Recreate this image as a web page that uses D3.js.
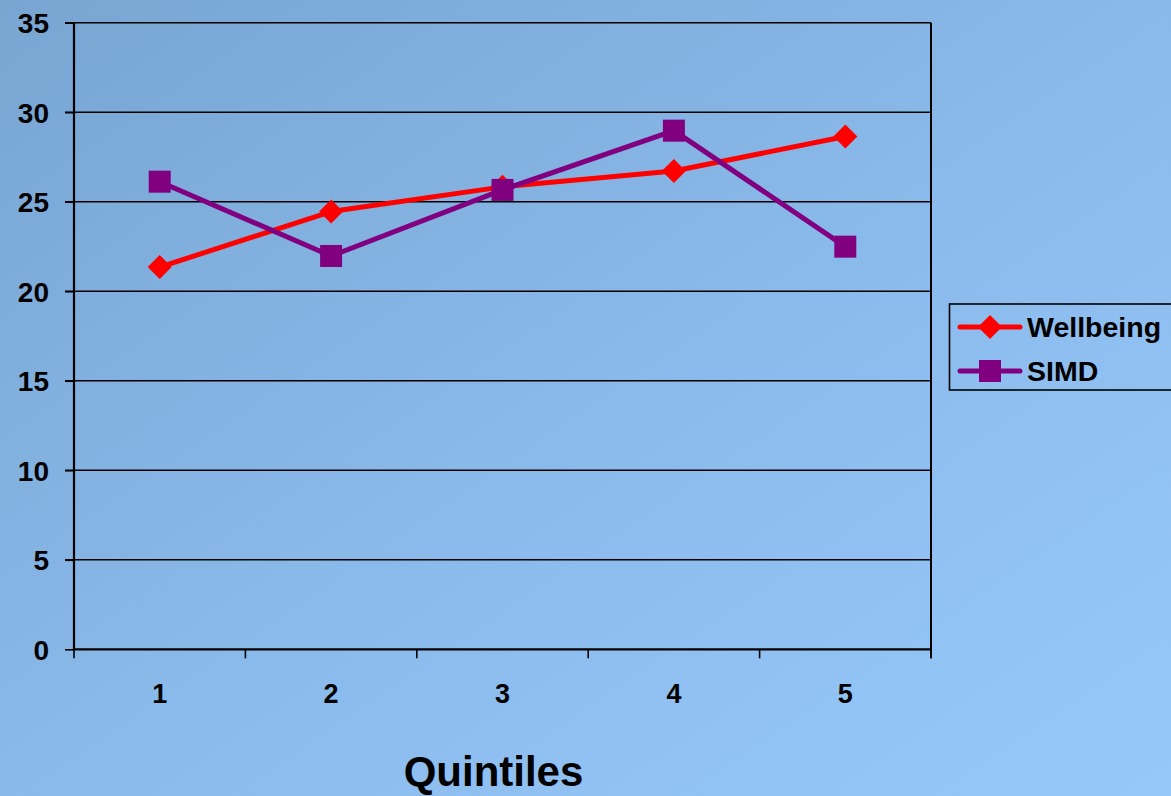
<!DOCTYPE html>
<html><head><meta charset="utf-8">
<script src="https://cdn.jsdelivr.net/npm/d3@7"></script>
<style>html,body{margin:0;padding:0;overflow:hidden;}svg{display:block;}</style>
</head><body>
<script>
const categories = ["1","2","3","4","5"];
const wellbeing = [21.35, 24.45, 25.83, 26.72, 28.64];
const simd = [26.12, 21.97, 25.66, 28.97, 22.49];
const yTicks = [0,5,10,15,20,25,30,35];
const seriesNames = ["Wellbeing","SIMD"];
const xTitle = "Quintiles";

const W = 1171, H = 796;
const m = {left:74, right:240, top:22.7, bottom:146.7};
const svg = d3.select("body").append("svg").attr("width",W).attr("height",H);
const defs = svg.append("defs");
const g1 = defs.append("linearGradient").attr("id","bg").attr("x1","0").attr("y1","0").attr("x2","1").attr("y2","1");
g1.append("stop").attr("offset","0%").attr("stop-color","#78a5d2");
g1.append("stop").attr("offset","55%").attr("stop-color","#8bbbec");
g1.append("stop").attr("offset","100%").attr("stop-color","#96c9fa");
svg.append("rect").attr("width",W).attr("height",H).attr("fill","url(#bg)");

const x = d3.scaleBand().domain(categories).range([m.left, W-m.right]);
const y = d3.scaleLinear().domain([0,35]).range([H-m.bottom, m.top]);
const x0 = m.left, x1 = W-m.right;
const FONT = "Liberation Sans, Arial, sans-serif";

// gridlines
svg.append("g").selectAll("line").data(yTicks.filter(d=>d>0)).join("line")
  .attr("x1",x0-9).attr("x2",x1).attr("y1",d=>y(d)).attr("y2",d=>y(d))
  .attr("stroke","#000").attr("stroke-width",1.6);
// right border
svg.append("line").attr("x1",x1).attr("x2",x1).attr("y1",y(35)).attr("y2",y(0)+9).attr("stroke","#000").attr("stroke-width",2);

// y axis
const yAxis = svg.append("g").attr("transform",`translate(${x0},0)`)
  .call(d3.axisLeft(y).tickValues(yTicks).tickSize(9).tickPadding(16));
yAxis.select(".domain").attr("stroke","#000").attr("stroke-width",2.2).attr("d",`M0,${y(35)}V${y(0)}`);
yAxis.selectAll(".tick line").attr("stroke","#000").attr("stroke-width",1.6);
yAxis.selectAll("text").attr("font-family",FONT).attr("font-weight","bold").attr("font-size",28).attr("fill","#000").attr("dy","0.36em");

// x axis
const xAxis = svg.append("g").attr("transform",`translate(0,${y(0)})`)
  .call(d3.axisBottom(x).tickSize(0).tickPadding(0));
xAxis.select(".domain").remove();
xAxis.selectAll("text").attr("y",44).attr("dy","0.36em")
  .attr("font-family",FONT).attr("font-weight","bold").attr("font-size",27).attr("fill","#000");
svg.append("line").attr("x1",x0).attr("x2",x1).attr("y1",y(0)).attr("y2",y(0)).attr("stroke","#000").attr("stroke-width",2.2);
const bounds = categories.map(c=>x(c)).concat([x1]);
svg.append("g").selectAll("line").data(bounds).join("line")
  .attr("x1",d=>d).attr("x2",d=>d).attr("y1",y(0)).attr("y2",y(0)+9)
  .attr("stroke","#000").attr("stroke-width",1.6);

svg.append("text").attr("x",493.5).attr("y",786).attr("text-anchor","middle")
  .attr("font-family",FONT).attr("font-weight","bold").attr("font-size",42).attr("fill","#000").text(xTitle);

const cx = c => x(c)+x.bandwidth()/2;
const line = d3.line().x((d,i)=>cx(categories[i])).y(d=>y(d));
const series = [
  {name:seriesNames[0], vals:wellbeing, color:"#ff0000", shape:"diamond"},
  {name:seriesNames[1], vals:simd, color:"#800080", shape:"square"}
];
function marker(sel, shape, color){
  if(shape==="diamond"){
    sel.append("path").attr("d","M0,-12L12,0L0,12L-12,0Z").attr("fill",color);
  } else {
    sel.append("rect").attr("x",-11).attr("y",-11).attr("width",22).attr("height",22).attr("fill",color);
  }
}
series.forEach(s=>{
  svg.append("path").datum(s.vals).attr("d",line).attr("fill","none")
    .attr("stroke",s.color).attr("stroke-width",5).attr("stroke-linejoin","round");
  s.vals.forEach((v,i)=>{
    const gm = svg.append("g").attr("transform",`translate(${cx(categories[i])},${y(v)})`);
    marker(gm, s.shape, s.color);
  });
});

// legend
const lg = svg.append("g");
lg.append("rect").attr("x",949.5).attr("y",304).attr("width",240).attr("height",86)
  .attr("fill","none").attr("stroke","#000").attr("stroke-width",1.6);
series.forEach((s,i)=>{
  const ly = 327 + i*44;
  lg.append("line").attr("x1",960).attr("x2",1020).attr("y1",ly).attr("y2",ly)
    .attr("stroke",s.color).attr("stroke-width",5).attr("stroke-linecap","round");
  const gm = lg.append("g").attr("transform",`translate(990,${ly})`);
  marker(gm, s.shape, s.color);
  lg.append("text").attr("x",1027).attr("y",ly).attr("dy","0.36em")
    .attr("font-family",FONT).attr("font-weight","bold").attr("font-size",28.5)
    .attr("fill","#000").text(s.name);
});
</script>
</body></html>
